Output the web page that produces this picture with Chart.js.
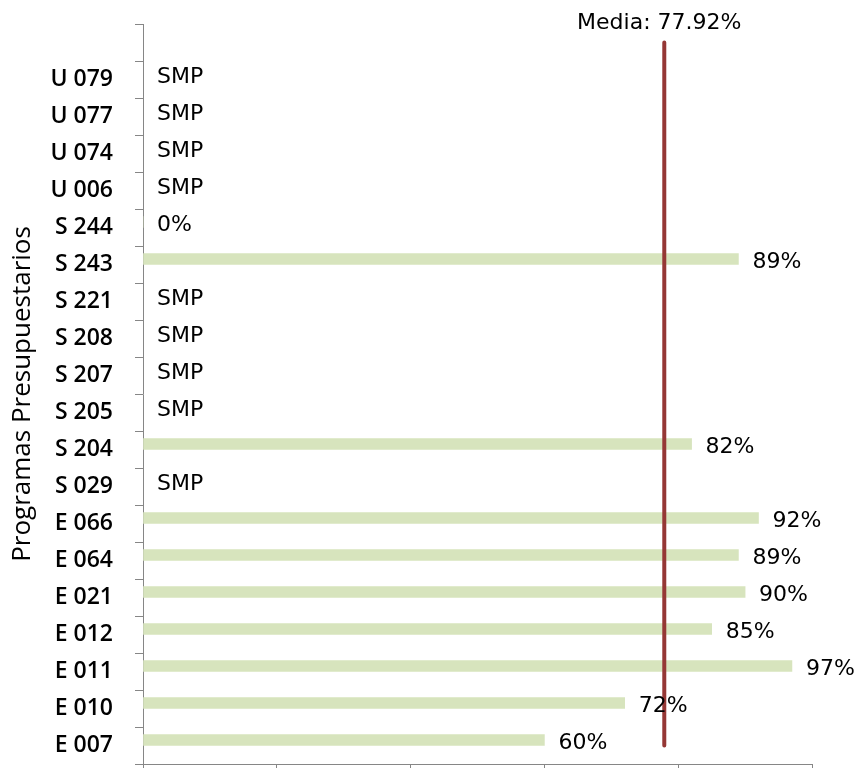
<!DOCTYPE html>
<html>
<head>
<meta charset="utf-8">
<script src="https://cdn.jsdelivr.net/npm/chart.js@4"></script>
<style>
    body { margin: 0; background: #fff; }
    #wrap { width: 867px; height: 768px; position: relative; }
</style>
</head>
<body>
<div id="wrap"><canvas id="programasChart"></canvas></div>
<script>
// categorias (de arriba a abajo), la primera queda vacia como en el original
var programas = ['', 'U 079', 'U 077', 'U 074', 'U 006', 'S 244', 'S 243', 'S 221', 'S 208', 'S 207',
    'S 205', 'S 204', 'S 029', 'E 066', 'E 064', 'E 021', 'E 012', 'E 011', 'E 010', 'E 007'];
// porcentaje por programa, null = SMP
var avance = [null, null, null, null, null, 0, 89, null, null, null,
    null, 82, null, 92, 89, 90, 85, 97, 72, 60];
// media
var media = 77.92;
// ticks eje x
var ticksX = [0, 20, 40, 60, 80, 100];

var lineaMedia = programas.map(function () { return media; });

// etiquetas de datos
var etiquetasPlugin = {
    id: 'etiquetas',
    afterDatasetsDraw: function (chart) {
        var ctx = chart.ctx;
        var x = chart.scales.x;
        var meta = chart.getDatasetMeta(0);
        ctx.save();
        ctx.font = '22px "DejaVu Sans"';
        ctx.fillStyle = '#000';
        ctx.textBaseline = 'middle';
        ctx.textAlign = 'left';
        meta.data.forEach(function (bar, i) {
            if (programas[i] === '') return;
            var v = avance[i];
            var txt = v === null ? 'SMP' : v + '%';
            ctx.fillText(txt, x.getPixelForValue(v === null ? 0 : v) + 14, bar.y + 3);
        });
        // etiqueta media
        var top = chart.getDatasetMeta(2).data[0];
        ctx.font = '22px "DejaVu Sans"';
        ctx.textAlign = 'center';
        ctx.textBaseline = 'bottom';
        ctx.fillText('Media: ' + media.toFixed(2) + '%', top.x - 5, top.y - 8);
        ctx.restore();
    }
};

var ctx = document.getElementById('programasChart').getContext('2d');
var chart = new Chart(ctx, {
    type: 'bar',
    data: {
        labels: programas,
        datasets: [{
            data: avance,
            backgroundColor: '#d7e4bd',
            barThickness: 11
        }, {
            // serie vacia, desplaza las barras como en excel
            data: programas.map(function () { return null; }),
            barThickness: 11
        }, {
            type: 'line',
            indexAxis: 'y',
            data: lineaMedia,
            borderColor: '#953735',
            borderWidth: 4,
            borderCapStyle: 'round',
            pointRadius: 0,
            order: -1
        }]
    },
    options: {
        indexAxis: 'y',
        responsive: true,
        maintainAspectRatio: false,
        animation: false,
        layout: { padding: { top: 24, right: 55, left: 0, bottom: 0 } },
        plugins: {
            legend: { display: false },
            tooltip: { enabled: false }
        },
        scales: {
            x: {
                min: 0,
                max: 100,
                afterBuildTicks: function (scale) {
                    scale.ticks = ticksX.map(function (v) { return { value: v }; });
                },
                ticks: { display: false },
                grid: { drawOnChartArea: false, color: '#868686', tickLength: 8 },
                border: { color: '#868686', width: 1 },
                afterFit: function (scale) {
                    scale.height = 4;
                    scale.paddingLeft = 0;
                    scale.paddingRight = 0;
                }
            },
            y: {
                ticks: {
                    color: '#000',
                    padding: 22,
                    font: { family: '"Open Sans"', size: 23, weight: '600' }
                },
                grid: { drawOnChartArea: false, color: '#868686', tickLength: 8 },
                border: { color: '#868686', width: 1 },
                title: {
                    display: true,
                    text: 'Programas Presupuestarios',
                    color: '#000',
                    padding: { top: 7, bottom: 0 },
                    font: { family: '"Open Sans"', size: 26, weight: '500' }
                },
                afterFit: function (scale) {
                    scale.width = 143;
                    scale.paddingTop = 0;
                    scale.paddingBottom = 0;
                }
            }
        }
    },
    plugins: [etiquetasPlugin]
});
</script>
</body>
</html>
